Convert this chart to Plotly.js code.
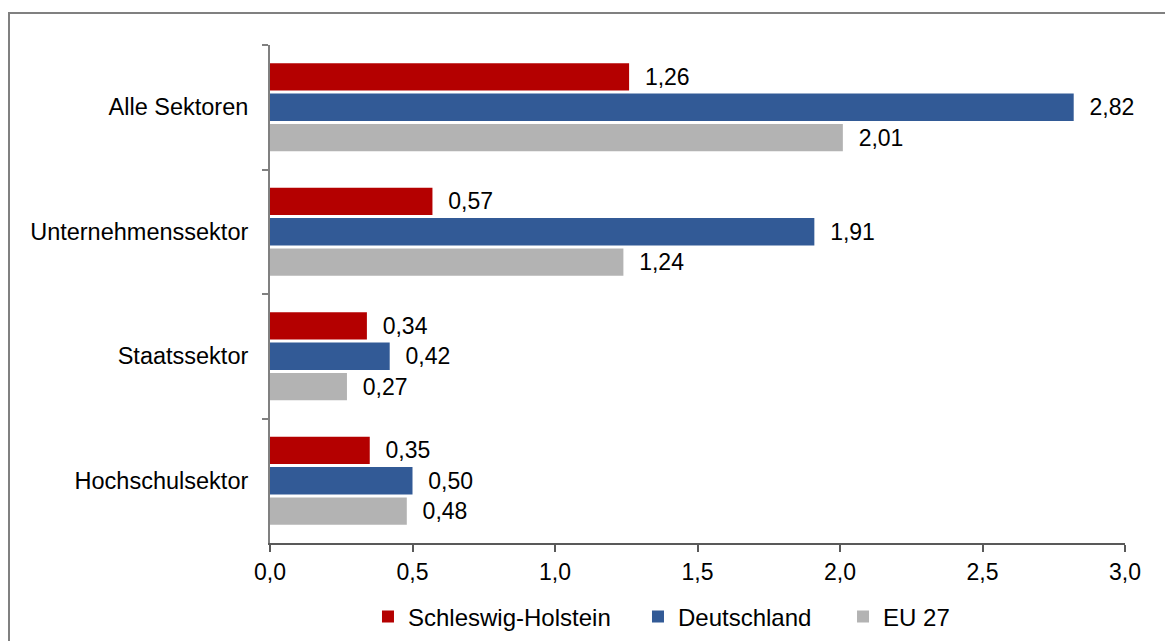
<!DOCTYPE html>
<html>
<head>
<meta charset="utf-8">
<script src="https://cdn.plot.ly/plotly-3.0.1.min.js"></script>
<style>
html,body{margin:0;padding:0;background:#fff;}
#wrap{position:relative;width:1165px;height:641px;overflow:hidden;}
#chart{position:absolute;left:0;top:0;width:1165px;height:641px;}
#frame{position:absolute;left:8px;top:12px;width:1200px;height:700px;border:2px solid #808080;pointer-events:none;box-sizing:border-box;}
</style>
</head>
<body>
<div id="wrap"><div id="chart"></div><div id="frame"></div></div>
<script>
const categories = ["Alle Sektoren", "Unternehmenssektor", "Staatssektor", "Hochschulsektor"];
const seriesNames = ["Schleswig-Holstein", "Deutschland", "EU 27"];
const schleswigHolstein = [1.26, 0.57, 0.34, 0.35];
const deutschland = [2.82, 1.91, 0.42, 0.50];
const eu27 = [2.01, 1.24, 0.27, 0.48];
const xTickVals = [0, 0.5, 1.0, 1.5, 2.0, 2.5, 3.0];

const colors = ["#B40000", "#325A96", "#B3B3B3"];
const seriesValues = [schleswigHolstein, deutschland, eu27];
const legendIds = ["legend", "legend2", "legend3"];
const legendX = [0.1146, 0.4304, 0.6702];
const FONT = "Liberation Sans, Arial, sans-serif";

const traces = seriesValues.map((vals, i) => ({
  type: "bar",
  orientation: "h",
  name: seriesNames[i],
  legend: legendIds[i],
  x: vals,
  y: categories,
  marker: {color: colors[i]},
  texttemplate: "\u00a0\u00a0%{x:.2f}",
  textposition: "outside",
  textfont: {family: FONT, size: 23, color: "#000"},
  cliponaxis: false,
  hoverinfo: "x+name"
}));

const layout = {
  width: 1165,
  height: 641,
  paper_bgcolor: "#fff",
  plot_bgcolor: "#fff",
  separators: ",.",
  font: {family: FONT, size: 23, color: "#000"},
  margin: {l: 270, r: 40, t: 45, b: 98, autoexpand: false},
  barmode: "group",
  bargap: 0.27,
  bargroupgap: 0.1,
  showlegend: true,
  xaxis: {
    range: [0, 3],
    tickvals: xTickVals,
    tickformat: ".1f",
    showgrid: false,
    zeroline: false,
    showline: true,
    linecolor: "#595959",
    linewidth: 2,
    ticks: "outside",
    ticklen: 7,
    tickwidth: 2,
    tickcolor: "#595959",
    ticklabelstandoff: 0,
    tickfont: {family: FONT, size: 23, color: "#000"},
    automargin: false,
    fixedrange: true
  },
  yaxis: {
    type: "category",
    autorange: "reversed",
    showgrid: false,
    zeroline: false,
    showline: true,
    linecolor: "#808080",
    linewidth: 2,
    ticks: "outside",
    tickson: "boundaries",
    ticklen: 6,
    tickwidth: 2,
    tickcolor: "#808080",
    ticklabelstandoff: 15,
    tickfont: {family: FONT, size: 23.5, color: "#000"},
    automargin: false,
    fixedrange: true
  }
};

legendIds.forEach((id, i) => {
  layout[id] = {
    orientation: "h",
    x: legendX[i],
    xanchor: "left",
    y: -0.103,
    yanchor: "top",
    font: {family: FONT, size: 24, color: "#000"},
    bgcolor: "rgba(0,0,0,0)"
  };
});

Plotly.newPlot("chart", traces, layout, {displayModeBar: false, staticPlot: true});
</script>
</body>
</html>
